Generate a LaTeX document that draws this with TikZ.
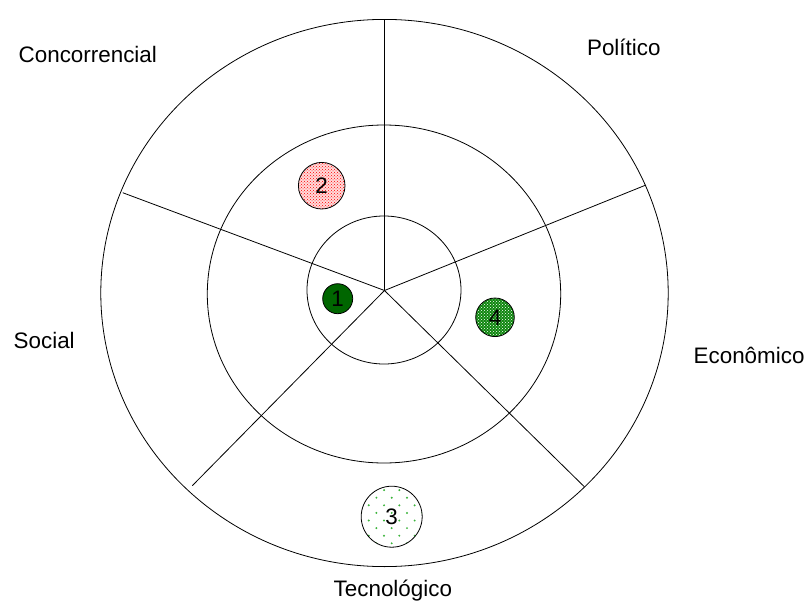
\documentclass[tikz,border=0pt]{standalone}
\usepackage{fontspec}
\setmainfont{Liberation Sans}
\usetikzlibrary{patterns}
\definecolor{darkgreen}{RGB}{0,102,0}
\definecolor{midgreen}{RGB}{15,135,15}
\definecolor{dotgreen}{RGB}{60,180,60}
\begin{document}
\begin{tikzpicture}[x=1pt,y=1pt,line width=0.8pt,
  sector/.style={anchor=base west,inner sep=0pt,font=\fontsize{22.4}{26}\selectfont},
  bubble/.style={circle,draw,inner sep=0pt,font=\fontsize{22.4}{26}\selectfont}]
\useasboundingbox (-384.5,-315.5) rectangle (422.5,290.5);
\draw (0,-2.5) ellipse (283.7 and 273.6);
\draw (-0.5,-3.5) ellipse (176.7 and 169);
\draw (-0.5,0.5) ellipse (77 and 74);
\coordinate (c) at (0,0);
\coordinate (pol) at (0,270.8);
\coordinate (eco) at (261.5,105.5);
\coordinate (tec) at (199.8,-196.2);
\coordinate (soc) at (-192.2,-195.2);
\coordinate (con) at (-261.8,97.8);
\draw (c) -- (pol);
\draw (c) -- (eco);
\draw (c) -- (tec);
\draw (c) -- (soc);
\draw (c) -- (con);
\node[sector] (lcon) at (-366.2,228.2) {Concorrencial};
\node[sector] (lpol) at (202.2,235.5) {Político};
\node[sector] (lsoc) at (-371.2,-57.8) {Social};
\node[sector] (leco) at (308.8,-72.8) {Econômico};
\node[sector] (ltec) at (-51.2,-306.2) {Tecnológico};
\node[bubble,minimum size=30pt,fill=darkgreen] (n1) at (-46.8,-8.2) {1};
\node[bubble,minimum size=46.6pt,preaction={fill=red!14},pattern=crosshatch dots,pattern color=red] (n2) at (-62.8,104.8) {2};
\node[bubble,minimum size=38.6pt,preaction={fill=midgreen},pattern=crosshatch dots,pattern color=white] (n4) at (110.5,-26.8) {4};
\begin{scope}
\clip (7.2,-226.2) circle (30.5);
\foreach \k in {-4,...,4}
  \foreach \j in {-5,...,4}
    {\ifodd\numexpr\k+\j\relax\else
       \fill[dotgreen] (7.2+\k*7.65,-226.2+\j*7.6+3.8) circle (1.1);
     \fi}
\end{scope}
\node[bubble,minimum size=61pt] (n3) at (7.2,-226.2) {3};
\end{tikzpicture}
\end{document}
